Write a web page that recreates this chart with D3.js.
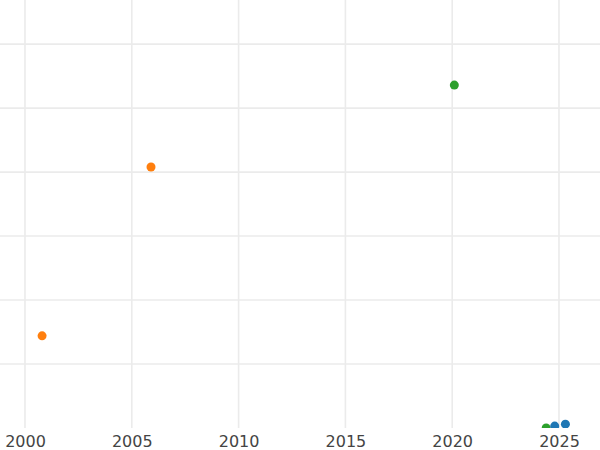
<!DOCTYPE html>
<html><head><meta charset="utf-8">
<script src="https://cdn.jsdelivr.net/npm/d3@7"></script>
<style>body{margin:0;background:#fff}text{font-family:"DejaVu Sans",sans-serif}</style>
</head><body><div id="graphic"></div>
<script>
var years = [2000.8, 2005.9, 2020.1, 2024.4, 2024.8, 2025.3];
var values = [1.44, 4.08, 5.36, 0, 0.03, 0.06];
var groups = ["orange", "orange", "green", "green", "blue", "blue"];
var xTicks = [2000, 2005, 2010, 2015, 2020, 2025];
var yTicks = [1, 2, 3, 4, 5, 6];

var width = 600, height = 450, bottom = 428;
var colors = {blue: "#1f77b4", orange: "#ff7f0e", green: "#2ca02c"};

var x = d3.scaleLinear().domain([1998.83, 2026.92]).range([0, width]);
var y = d3.scaleLinear().domain([0, 6.69]).range([bottom, 0]);

var svg = d3.select("#graphic").append("svg").attr("width", width).attr("height", height);
svg.append("clipPath").attr("id", "clip").append("rect").attr("width", width).attr("height", bottom);

var plot = svg.append("g").attr("clip-path", "url(#clip)");
plot.selectAll(".vg").data(xTicks).enter().append("line")
  .attr("x1", x).attr("x2", x).attr("y1", 0).attr("y2", bottom)
  .attr("stroke", "#ebebeb").attr("stroke-width", 1.6);
plot.selectAll(".hg").data(yTicks).enter().append("line")
  .attr("x1", 0).attr("x2", width).attr("y1", y).attr("y2", y)
  .attr("stroke", "#ebebeb").attr("stroke-width", 1.6);
plot.selectAll("circle").data(years).enter().append("circle")
  .attr("cx", function(d) { return x(d); })
  .attr("cy", function(d, i) { return y(values[i]); })
  .attr("r", 4.5)
  .attr("fill", function(d, i) { return colors[groups[i]]; });

var axis = svg.append("g").attr("transform", "translate(0," + bottom + ")")
  .call(d3.axisBottom(x).tickValues(xTicks).tickFormat(d3.format("d")).tickSize(0).tickPadding(8));
axis.select(".domain").remove();
axis.selectAll("text").attr("font-size", 16).attr("fill", "#444").style("font-family", "DejaVu Sans");
</script></body></html>
